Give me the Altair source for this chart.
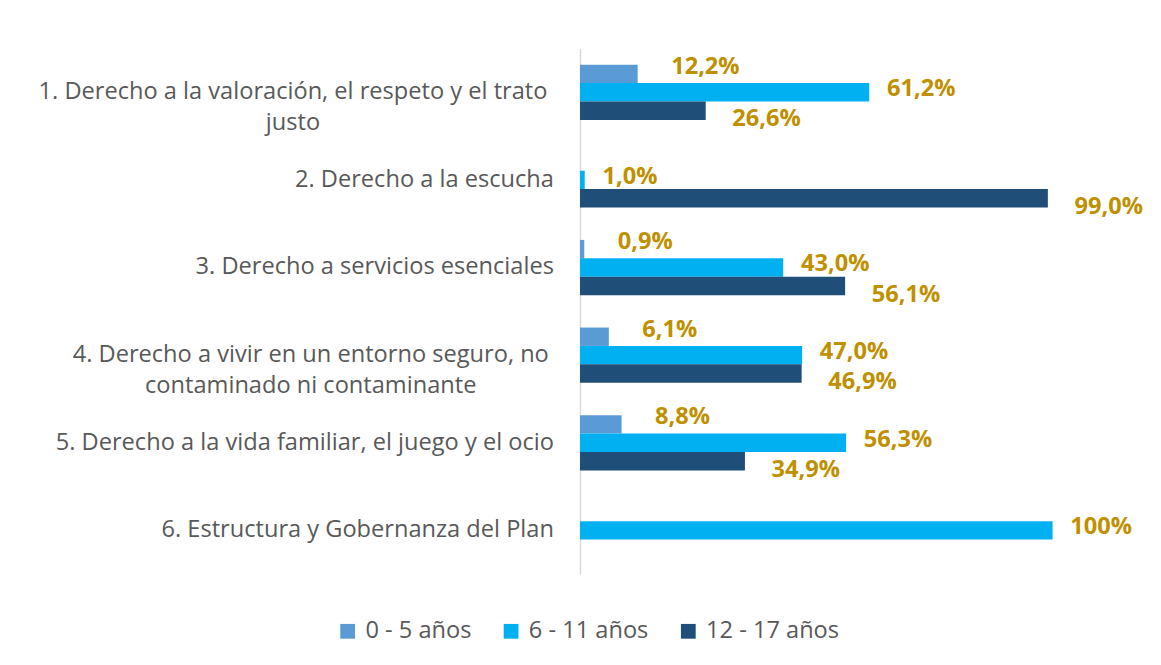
import altair as alt
import pandas as pd

categories = [
    "1. Derecho a la valoración, el respeto y el trato justo",
    "2. Derecho a la escucha",
    "3. Derecho a servicios esenciales",
    "4. Derecho a vivir en un entorno seguro, no contaminado ni contaminante",
    "5. Derecho a la vida familiar, el juego y el ocio",
    "6. Estructura y Gobernanza del Plan",
]
series = ["0 - 5 años", "6 - 11 años", "12 - 17 años"]
vals_0_5 = [12.2, 0.0, 0.9, 6.1, 8.8, 0.0]
vals_6_11 = [61.2, 1.0, 43.0, 47.0, 56.3, 100.0]
vals_12_17 = [26.6, 99.0, 56.1, 46.9, 34.9, 0.0]
colors = ["#5B9BD5", "#00B0F0", "#1F4E79"]


def fmt(v):
    return "100%" if v >= 100 else f"{v:.1f}%".replace(".", ",")


rows = []
for s, vals in zip(series, [vals_0_5, vals_6_11, vals_12_17]):
    for c, v in zip(categories, vals):
        rows.append({"cat": c, "serie": s, "v": v / 100.0, "lab": fmt(v)})
df = pd.DataFrame(rows)

FONT = "Open Sans"
GRAY = "#595959"
GOLD = "#BF9000"

multi_test = "indexof(datum.value, '1.') == 0 || indexof(datum.value, '4.') == 0"

y_enc = alt.Y(
    "cat:N",
    sort=categories,
    title=None,
    scale=alt.Scale(paddingInner=0.37, paddingOuter=0.185),
    axis=alt.Axis(
        labelExpr="split(replace(replace(datum.value, 'el trato justo', 'el trato|justo'), 'seguro, no contaminado', 'seguro, no|contaminado'), '|')",
        labelFont=FONT,
        labelFontSize=24,
        labelColor=GRAY,
        labelLineHeight=31,
        labelLimit=800,
        labelBaseline="middle",
        labelAlign={
            "condition": {"test": multi_test, "value": "center"},
            "value": "right",
        },
        labelPadding={
            "condition": [
                {"test": "indexof(datum.value, '1.') == 0", "value": 292},
                {"test": "indexof(datum.value, '4.') == 0", "value": 274},
            ],
            "value": 27,
        },
        ticks=False,
        domainColor="#D9D9D9",
        domainWidth=1.5,
        grid=False,
    ),
)
yoff = alt.YOffset("serie:N", sort=series, scale=alt.Scale(paddingInner=0))
x_enc = alt.X("v:Q", scale=alt.Scale(domain=[0, 1]), axis=None)

base = alt.Chart(df).transform_filter("datum.v > 0")

bars = base.mark_bar().encode(
    x=x_enc,
    y=y_enc,
    yOffset=yoff,
    color=alt.Color(
        "serie:N",
        sort=series,
        scale=alt.Scale(domain=series, range=colors),
        legend=alt.Legend(
            title=None,
            orient="none",
            legendX=-248,
            legendY=580,
            direction="horizontal",
            symbolType="square",
            symbolSize=225,
            symbolStrokeWidth=0,
            labelFont=FONT,
            labelFontSize=24,
            labelColor=GRAY,
            columnPadding=28,
            symbolOffset=0,
            labelOffset=6,
        ),
    ),
)

offsets = {
    "0 - 5 años": (34, -7),
    "6 - 11 años": (18, -3),
    "12 - 17 años": (27, 9),
}
texts = []
for s in series:
    dx, dy = offsets[s]
    t = (
        base.transform_filter(alt.datum.serie == s)
        .mark_text(
            align="left",
            baseline="middle",
            dx=dx,
            dy=dy,
            font=FONT,
            fontSize=24,
            fontWeight="bold",
            color=GOLD,
        )
        .encode(x=x_enc, y=y_enc, yOffset=yoff, text="lab:N")
    )
    texts.append(t)

chart = (
    alt.layer(bars, *texts)
    .properties(width=480, height=534, padding={"left": 30, "top": 36, "right": 10, "bottom": 10})
    .configure(background="white")
    .configure_view(stroke=None)
)

chart.save("out.html", embed_options={"renderer": "svg", "actions": False})
